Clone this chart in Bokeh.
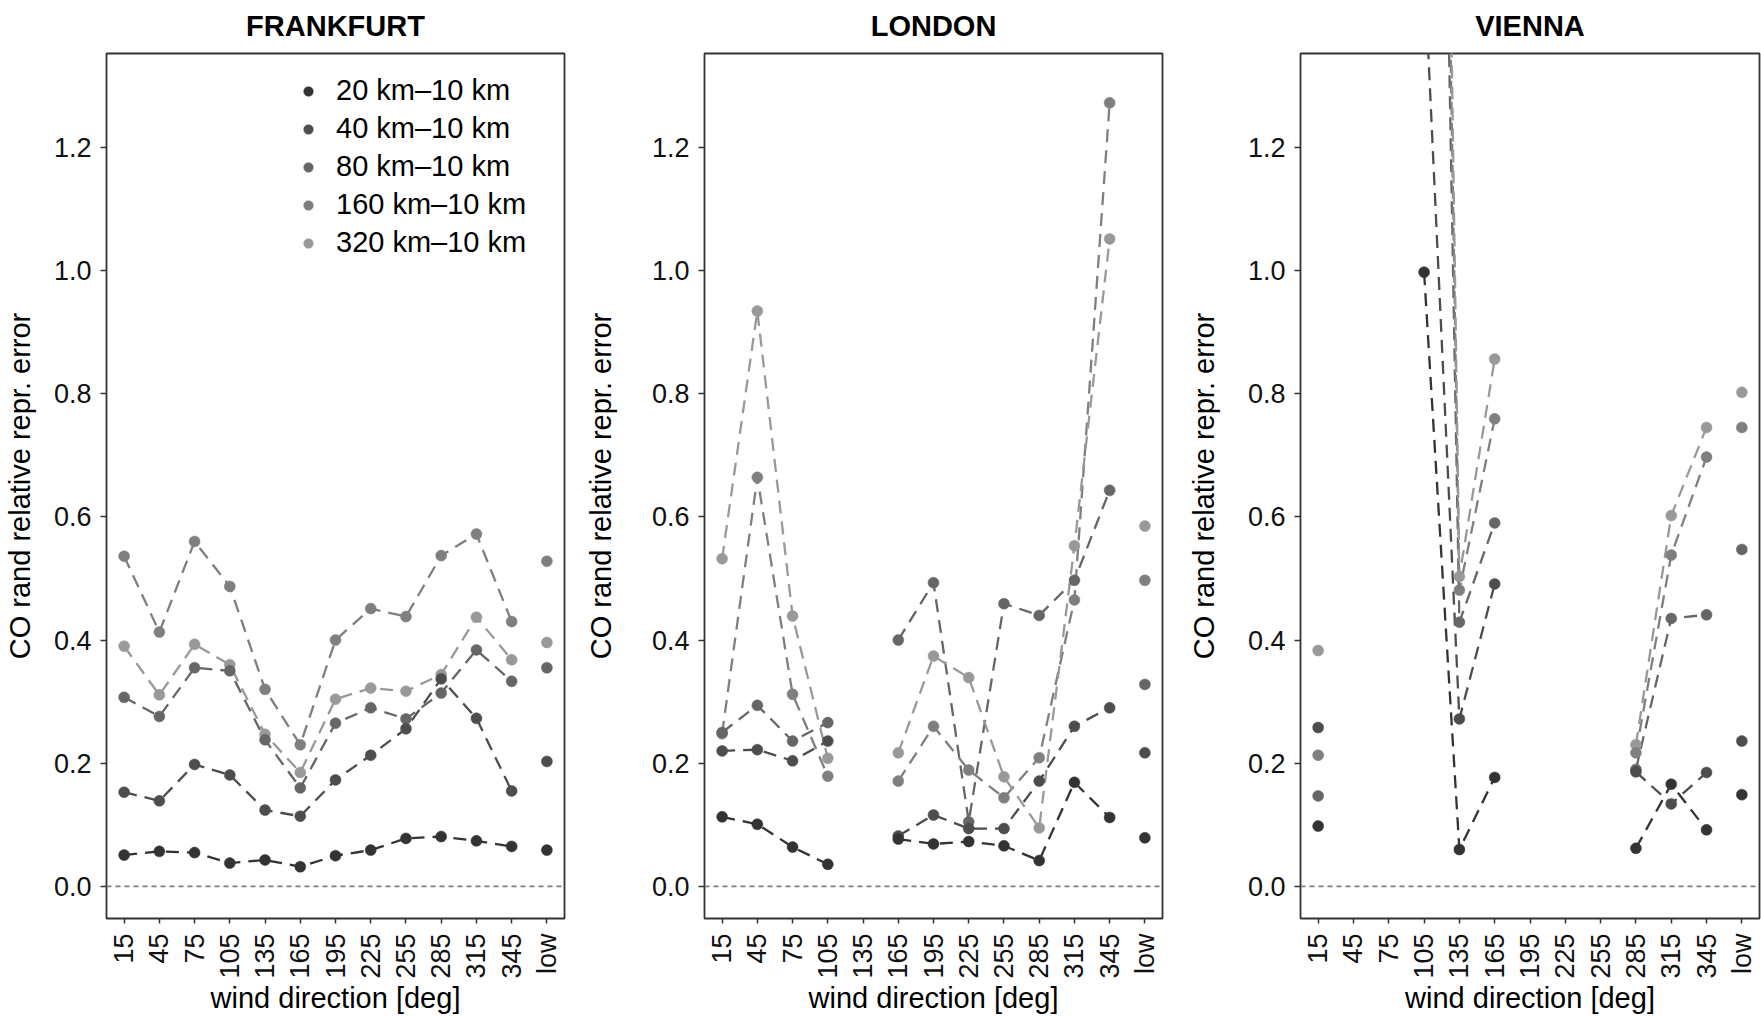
import math
from bokeh.plotting import figure
from bokeh.models import (FactorRange, Range1d, FixedTicker, PrintfTickFormatter,
                          Span, Legend, LegendItem, Title)
from bokeh.layouts import row
from bokeh.embed import file_html
from bokeh.resources import INLINE

nan = float("nan")

# ---------------- data ----------------
directions = ["15", "45", "75", "105", "135", "165", "195", "225", "255", "285", "315", "345"]
categories = directions + ["low"]

series_labels = ["20 km\u201310 km", "40 km\u201310 km", "80 km\u201310 km",
                 "160 km\u201310 km", "320 km\u201310 km"]
series_colors = ["#333333", "#4d4d4d", "#666666", "#7f7f7f", "#999999"]

y_ticks = [0.0, 0.2, 0.4, 0.6, 0.8, 1.0, 1.2]

frankfurt_20 = [0.051, 0.057, 0.055, 0.038, 0.043, 0.032, 0.050, 0.059, 0.078, 0.081, 0.074, 0.065, 0.059]
frankfurt_40 = [0.153, 0.139, 0.198, 0.181, 0.124, 0.114, 0.173, 0.213, 0.256, 0.337, 0.273, 0.155, 0.203]
frankfurt_80 = [0.307, 0.276, 0.355, 0.350, 0.238, 0.160, 0.265, 0.290, 0.272, 0.314, 0.384, 0.333, 0.355]
frankfurt_160 = [0.536, 0.413, 0.560, 0.487, 0.320, 0.230, 0.400, 0.451, 0.438, 0.537, 0.572, 0.430, 0.528]
frankfurt_320 = [0.390, 0.311, 0.393, 0.360, 0.247, 0.185, 0.304, 0.322, 0.317, 0.344, 0.437, 0.368, 0.396]

london_20 = [0.113, 0.101, 0.064, 0.036, nan, 0.077, 0.069, 0.073, 0.066, 0.042, 0.169, 0.112, 0.079]
london_40 = [0.220, 0.222, 0.204, 0.236, nan, 0.082, 0.116, 0.094, 0.094, 0.171, 0.260, 0.290, 0.217]
london_80 = [0.250, 0.294, 0.236, 0.266, nan, 0.400, 0.493, 0.105, 0.459, 0.440, 0.497, 0.643, 0.328]
london_160 = [0.248, 0.664, 0.312, 0.179, nan, 0.171, 0.260, 0.189, 0.144, 0.209, 0.465, 1.272, 0.497]
london_320 = [0.532, 0.934, 0.439, 0.208, nan, 0.217, 0.374, 0.339, 0.178, 0.095, 0.553, 1.051, 0.585]

vienna_20 = [0.098, nan, nan, 0.997, 0.060, 0.177, nan, nan, nan, 0.062, 0.166, 0.092, 0.149]
vienna_40 = [0.258, nan, nan, 1.50, 0.272, 0.491, nan, nan, nan, 0.186, 0.134, 0.185, 0.236]
vienna_80 = [0.147, nan, nan, 3.6, 0.429, 0.590, nan, nan, nan, 0.190, 0.435, 0.441, 0.547]
vienna_160 = [0.213, nan, nan, 4.0, 0.481, 0.759, nan, nan, nan, 0.217, 0.538, 0.697, 0.745]
vienna_320 = [0.383, nan, nan, 4.4, 0.503, 0.856, nan, nan, nan, 0.230, 0.602, 0.745, 0.802]

FONT = "Liberation Sans"
Y_START, Y_END = -0.052, 1.352


def make_fig(title, series, width, left, right, ylab_standoff, with_legend=False):
    p = figure(width=width, height=1017,
               x_range=FactorRange(factors=categories),
               y_range=Range1d(Y_START, Y_END),
               output_backend="svg", toolbar_location=None,
               min_border_left=left, min_border_right=right,
               min_border_top=53, min_border_bottom=99)
    p.xgrid.visible = False
    p.ygrid.visible = False
    p.background_fill_color = "white"
    p.border_fill_color = "white"
    p.outline_line_color = "#333333"
    p.outline_line_width = 1.8

    p.add_layout(Title(text=title, align="center", vertical_align="top", standoff=19,
                       text_font=FONT, text_font_size="29px", text_font_style="bold",
                       text_color="black"), "above")

    for ax in (p.xaxis[0], p.yaxis[0]):
        ax.axis_line_color = None
        ax.major_tick_line_color = "#333333"
        ax.major_tick_line_width = 1.5
        ax.major_tick_in = 0
        ax.minor_tick_line_color = None
        ax.major_label_text_font = FONT
        ax.major_label_text_font_size = "27px"
        ax.major_label_text_color = "#111111"
        ax.axis_label_text_font = FONT
        ax.axis_label_text_font_size = "29px"
        ax.axis_label_text_font_style = "normal"
        ax.axis_label_text_color = "black"

    p.xaxis.axis_label = "wind direction [deg]"
    p.xaxis.major_label_orientation = math.pi / 2
    p.xaxis.major_tick_out = 5
    p.xaxis.major_label_standoff = 10
    p.xaxis.axis_label_standoff = 0

    p.yaxis.axis_label = "CO rand relative repr. error"
    p.yaxis.ticker = FixedTicker(ticks=y_ticks)
    p.yaxis.formatter = PrintfTickFormatter(format="%.1f")
    p.yaxis.major_tick_out = 6
    p.yaxis.major_label_standoff = 9
    p.yaxis.axis_label_standoff = ylab_standoff

    p.add_layout(Span(location=0, dimension="width", line_color="#7f7f7f",
                      line_dash="5 4", line_width=1.8, level="underlay"))

    for vals, col in zip(series, series_colors):
        p.line(x=directions, y=vals[:len(directions)], line_color=col,
               line_width=2.3, line_dash="13 8")

    scatter_rs = {}
    for i in reversed(range(len(series))):
        r = p.scatter(x=categories, y=series[i], size=11, fill_color=series_colors[i],
                      line_color=series_colors[i], line_width=0.5)
        scatter_rs[i] = r

    if with_legend:
        items = [LegendItem(label=series_labels[i], renderers=[scatter_rs[i]])
                 for i in range(len(series))]
        legend = Legend(items=items, location=(190, 659),
                        glyph_width=24, glyph_height=30, label_height=30,
                        label_standoff=16, spacing=5, padding=0, margin=0,
                        border_line_color=None, background_fill_alpha=0,
                        label_text_font=FONT, label_text_font_size="29px",
                        label_text_color="black")
        p.add_layout(legend)
    return p


p1 = make_fig("FRANKFURT",
              [frankfurt_20, frankfurt_40, frankfurt_80, frankfurt_160, frankfurt_320],
              width=581, left=105, right=17, ylab_standoff=15, with_legend=True)
p2 = make_fig("LONDON",
              [london_20, london_40, london_80, london_160, london_320],
              width=599, left=122, right=18, ylab_standoff=32)
p3 = make_fig("VIENNA",
              [vienna_20, vienna_40, vienna_80, vienna_160, vienna_320],
              width=581, left=120, right=2, ylab_standoff=25)

layout = row(p1, p2, p3)

open("out.html", "w").write(file_html(layout, INLINE))
